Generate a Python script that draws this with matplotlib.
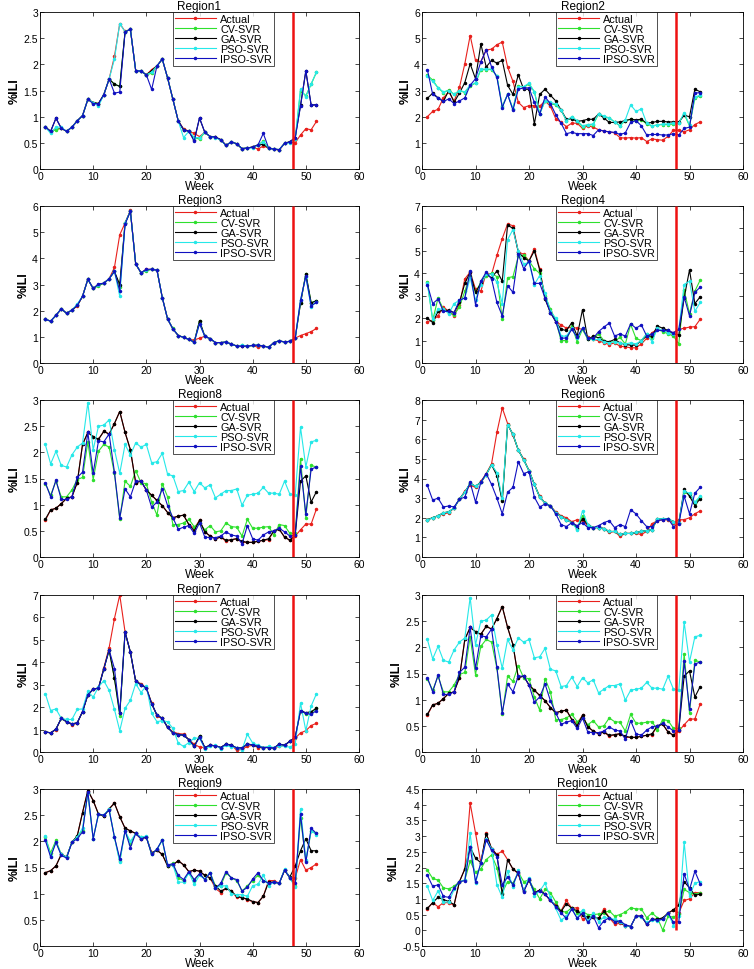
import matplotlib
matplotlib.use('Agg')
import matplotlib.pyplot as plt
from matplotlib.ticker import FormatStrFormatter, MultipleLocator

plt.rcParams['font.family'] = ['Liberation Sans', 'DejaVu Sans']

weeks = list(range(1, 53))
labels = ['Actual', 'CV-SVR', 'GA-SVR', 'PSO-SVR', 'IPSO-SVR']
colors = ['#e8201c', '#2ee02e', '#000000', '#26e8e8', '#1010c0']

# Region1
r1_actual = [0.8,0.72,0.76,0.78,0.72,0.8,0.92,1.02,1.33,1.27,1.25,1.42,1.72,2.15,2.78,2.63,2.67,1.88,1.87,1.8,1.9,1.97,2.1,1.74,1.33,0.92,0.77,0.72,0.68,0.62,0.7,0.62,0.61,0.56,0.45,0.52,0.48,0.39,0.4,0.42,0.38,0.44,0.4,0.38,0.36,0.49,0.52,0.5,0.65,0.77,0.75,0.91]
r1_cv = [0.8,0.72,0.75,0.78,0.72,0.8,0.92,1.02,1.33,1.27,1.25,1.42,1.72,1.62,1.58,2.62,2.67,1.88,1.87,1.8,1.83,1.97,2.1,1.74,1.33,0.92,0.75,0.72,0.6,0.57,0.7,0.62,0.61,0.55,0.45,0.52,0.48,0.39,0.4,0.42,0.46,0.53,0.4,0.38,0.37,0.49,0.52,0.57,1.5,1.4,1.62,1.85]
r1_ga = [0.8,0.72,0.97,0.78,0.72,0.8,0.92,1.02,1.33,1.27,1.25,1.42,1.72,1.62,1.58,2.62,2.67,1.88,1.87,1.8,1.88,1.97,2.1,1.74,1.33,0.92,0.75,0.72,0.55,0.97,0.7,0.62,0.61,0.56,0.45,0.52,0.48,0.39,0.4,0.42,0.46,0.47,0.4,0.38,0.37,0.49,0.52,0.6,1.22,1.87,1.22,1.23]
r1_pso = [0.8,0.68,0.8,0.8,0.72,0.8,0.92,1.02,1.33,1.27,1.2,1.42,1.72,2.1,2.78,2.62,2.67,1.88,1.87,1.8,1.85,1.97,2.1,1.74,1.33,0.92,0.6,0.72,0.6,0.6,0.7,0.62,0.6,0.55,0.45,0.52,0.48,0.39,0.4,0.4,0.46,0.52,0.4,0.38,0.37,0.49,0.5,0.57,1.53,1.38,1.63,1.85]
r1_ipso = [0.8,0.72,0.97,0.78,0.72,0.8,0.92,1.02,1.33,1.25,1.25,1.42,1.72,1.45,1.47,2.62,2.67,1.88,1.87,1.8,1.52,1.97,2.1,1.74,1.33,0.92,0.75,0.72,0.53,0.98,0.7,0.62,0.61,0.56,0.45,0.52,0.48,0.39,0.4,0.42,0.46,0.68,0.4,0.38,0.37,0.49,0.52,0.6,1.2,1.88,1.22,1.23]

# Region2
r2_actual = [2.0,2.2,2.28,2.72,2.95,2.6,3.12,4.02,5.1,4.15,4.1,4.55,4.58,4.75,4.85,3.9,3.35,2.55,2.35,2.42,2.42,2.4,2.6,2.4,1.92,1.78,1.62,1.75,1.75,1.55,1.65,1.6,1.5,1.45,1.42,1.38,1.2,1.18,1.2,1.18,1.2,1.05,1.15,1.12,1.1,1.25,1.48,1.48,1.42,1.5,1.7,1.8]
r2_cv = [3.58,3.4,3.1,2.92,3.02,2.85,3.0,2.92,3.18,3.28,3.8,3.8,3.8,3.55,2.4,2.85,2.3,3.18,3.12,3.25,2.95,2.12,2.6,2.5,2.45,2.25,1.85,1.98,1.82,1.62,1.68,1.7,2.1,2.0,1.95,1.8,1.65,1.85,1.9,1.85,1.88,1.72,1.65,1.68,1.7,1.7,1.72,1.75,2.1,1.65,2.7,2.8]
r2_ga = [2.7,2.9,2.72,2.58,3.0,2.55,2.9,3.3,4.02,3.45,4.78,3.9,4.15,4.05,4.15,3.2,2.85,3.6,3.05,3.05,1.72,2.85,3.05,2.82,2.6,2.25,1.9,1.92,1.82,1.85,1.9,1.9,2.1,1.95,1.78,1.78,1.8,1.85,1.9,1.88,1.9,1.75,1.78,1.82,1.82,1.8,1.8,1.8,2.05,2.0,3.05,2.95]
r2_pso = [3.55,3.35,3.1,2.95,3.0,2.85,3.0,2.95,3.2,3.3,3.82,3.82,3.82,3.55,2.38,2.85,2.3,3.15,3.15,3.28,2.95,2.1,2.6,2.55,2.48,2.25,1.85,2.0,1.85,1.65,1.7,1.72,2.12,2.02,1.95,1.8,1.65,1.88,2.45,2.2,2.3,1.75,1.65,1.68,1.72,1.72,1.75,1.75,2.15,1.68,2.75,2.82]
r2_ipso = [3.8,2.85,2.72,2.58,2.68,2.5,2.6,2.72,3.2,3.45,4.1,4.55,3.9,3.5,2.35,2.85,2.25,3.05,3.1,3.1,2.55,2.1,2.75,2.5,2.08,1.75,1.35,1.4,1.35,1.35,1.35,1.28,1.5,1.45,1.42,1.4,1.32,1.38,1.78,1.85,1.65,1.3,1.32,1.32,1.3,1.3,1.35,1.3,1.55,1.6,2.9,2.92]

# Region3
r3_actual = [1.67,1.6,1.82,2.07,1.9,2.02,2.18,2.55,3.2,2.85,3.0,3.05,3.22,3.65,4.9,5.35,5.83,3.78,3.45,3.58,3.58,3.55,2.5,1.68,1.3,1.05,0.98,0.9,0.88,0.95,1.02,0.93,0.78,0.78,0.8,0.72,0.65,0.65,0.65,0.67,0.6,0.65,0.6,0.78,0.85,0.8,0.83,0.95,1.05,1.12,1.2,1.32]
r3_cv = [1.67,1.6,1.82,2.07,1.9,2.02,2.2,2.55,3.2,2.85,2.95,3.05,3.22,3.5,2.9,5.35,5.8,3.78,3.45,3.52,3.58,3.55,2.5,1.68,1.32,1.05,0.98,0.9,0.8,1.6,1.02,0.93,0.78,0.78,0.8,0.72,0.65,0.67,0.65,0.67,0.68,0.65,0.6,0.78,0.85,0.8,0.83,0.95,2.3,3.42,2.3,2.38]
r3_ga = [1.67,1.6,1.82,2.07,1.9,2.02,2.2,2.55,3.2,2.85,2.98,3.05,3.22,3.5,3.0,5.35,5.8,3.78,3.45,3.56,3.58,3.55,2.5,1.68,1.3,1.05,0.98,0.9,0.8,1.62,1.02,0.93,0.78,0.78,0.8,0.72,0.65,0.66,0.65,0.67,0.68,0.65,0.6,0.78,0.85,0.8,0.83,0.95,2.28,3.4,2.3,2.38]
r3_pso = [1.67,1.6,1.82,2.07,1.9,2.02,2.25,2.55,3.2,2.85,3.0,3.05,3.22,3.5,2.55,5.35,5.8,3.78,3.45,3.56,3.58,3.55,2.5,1.68,1.3,1.05,0.98,0.9,0.8,1.5,1.02,0.93,0.78,0.78,0.8,0.72,0.65,0.68,0.65,0.67,0.68,0.65,0.6,0.78,0.85,0.8,0.83,0.95,2.4,3.3,2.15,2.35]
r3_ipso = [1.67,1.6,1.82,2.07,1.9,2.02,2.2,2.55,3.2,2.85,3.02,3.05,3.22,3.5,2.75,5.3,5.8,3.78,3.45,3.58,3.58,3.55,2.5,1.68,1.3,1.05,0.98,0.9,0.8,1.5,1.02,0.93,0.78,0.78,0.8,0.72,0.65,0.65,0.65,0.67,0.68,0.65,0.6,0.78,0.85,0.8,0.83,0.95,2.4,3.32,2.18,2.32]

# Region4
r4_actual = [1.85,1.9,2.1,2.5,2.3,2.1,2.6,3.75,4.05,3.3,3.2,4.0,3.95,4.8,5.55,6.2,6.12,4.95,4.85,4.55,5.1,4.2,2.9,2.3,1.85,1.7,1.55,1.6,1.55,1.5,1.15,1.05,1.0,0.9,0.82,0.9,0.75,0.72,0.68,0.68,0.85,1.1,1.35,1.5,1.45,1.4,1.35,1.5,1.55,1.6,1.62,1.95]
r4_cv = [3.6,1.9,2.9,2.4,2.25,2.15,2.5,3.2,3.9,3.15,3.6,3.9,4.0,3.85,1.95,3.8,3.85,4.75,4.8,4.55,4.2,4.0,3.0,2.4,1.9,1.0,1.0,1.65,0.95,1.5,1.05,1.05,1.3,1.0,0.92,0.95,1.15,0.85,1.72,1.1,1.0,1.3,1.1,1.5,1.4,1.3,1.2,0.85,3.25,2.2,3.2,3.7]
r4_ga = [2.0,1.8,2.3,2.35,2.35,2.25,2.7,3.55,4.05,3.15,3.55,3.95,3.8,4.1,3.65,6.15,6.0,4.95,4.7,4.55,5.0,4.15,2.85,2.25,1.85,1.5,1.45,1.8,1.2,2.38,1.05,1.2,1.12,0.98,0.95,1.05,0.9,0.82,0.8,0.8,1.0,1.2,1.2,1.65,1.55,1.45,1.3,1.25,2.9,4.15,2.65,2.95]
r4_pso = [3.55,1.95,2.4,2.4,2.2,2.65,2.8,2.9,3.8,2.8,3.5,3.95,3.95,3.6,2.65,5.5,5.95,5.0,4.4,4.5,3.5,3.9,3.1,2.3,2.0,1.2,1.2,1.55,1.1,1.55,1.1,1.05,1.05,0.95,0.9,0.95,0.9,0.85,0.9,0.85,1.0,1.3,0.95,1.55,1.45,1.35,1.3,1.5,3.5,3.65,2.3,2.7]
r4_ipso = [3.5,2.65,2.85,2.3,2.3,2.25,2.8,2.9,4.1,2.6,3.65,4.05,3.75,2.7,2.1,3.45,3.15,4.85,4.2,4.55,3.55,3.55,2.9,2.25,1.85,1.1,1.12,1.5,1.15,1.55,1.1,1.1,1.4,1.6,1.78,1.2,1.3,1.2,1.75,1.55,1.7,1.2,1.3,1.45,1.45,1.45,1.35,1.5,2.95,2.1,3.15,3.38]

# Region8
r8_actual = [0.7,0.9,0.93,1.02,1.12,1.15,1.42,2.15,2.38,2.3,2.25,2.4,2.35,2.55,2.78,2.38,2.05,1.42,1.45,1.28,1.18,1.08,0.98,0.85,0.75,0.78,0.8,0.62,0.55,0.7,0.48,0.4,0.35,0.38,0.3,0.33,0.35,0.28,0.28,0.28,0.3,0.32,0.33,0.5,0.53,0.38,0.32,0.4,0.52,0.63,0.63,0.92]
r8_cv = [1.4,1.18,1.45,1.15,1.15,1.28,1.48,1.52,2.2,1.48,2.02,2.15,2.1,1.6,0.72,1.45,1.35,1.65,1.42,1.4,1.05,0.8,1.4,1.15,0.62,0.62,0.65,0.72,0.58,0.65,0.52,0.6,0.48,0.5,0.65,0.58,0.57,0.4,0.72,0.55,0.55,0.57,0.58,0.42,0.62,0.6,0.45,0.45,1.88,0.75,1.75,1.72]
r8_ga = [0.72,0.9,0.93,1.02,1.12,1.15,1.42,2.15,2.38,2.3,2.25,2.4,2.35,2.55,2.78,2.38,2.05,1.42,1.45,1.28,1.18,1.08,0.98,0.85,0.75,0.78,0.8,0.62,0.5,0.7,0.48,0.4,0.35,0.38,0.32,0.33,0.35,0.3,0.28,0.28,0.3,0.32,0.35,0.5,0.53,0.38,0.32,0.42,1.45,1.55,1.05,1.25]
r8_pso = [2.15,1.78,2.02,1.75,1.72,1.95,2.1,2.18,2.95,2.05,2.5,2.52,2.62,2.05,1.6,2.15,1.95,2.18,2.1,2.15,1.8,1.82,1.98,1.58,1.55,1.25,1.27,1.43,1.25,1.42,1.32,1.38,1.13,1.2,1.27,1.27,1.3,0.99,1.18,1.2,1.22,1.33,1.22,1.22,1.2,1.45,1.2,1.18,2.48,1.72,2.2,2.23]
r8_ipso = [1.42,1.15,1.47,1.1,1.1,1.15,1.52,1.62,2.38,1.6,2.22,2.2,2.35,1.62,0.75,1.3,1.15,1.45,1.45,1.28,0.95,1.05,1.3,0.98,0.75,0.53,0.57,0.6,0.45,0.65,0.38,0.37,0.37,0.4,0.48,0.42,0.4,0.25,0.6,0.35,0.32,0.42,0.48,0.5,0.55,0.48,0.4,0.42,1.73,0.82,1.68,1.72]

# Region6
r6_actual = [1.9,2.0,2.1,2.2,2.25,2.5,2.95,3.35,3.65,3.55,3.85,4.25,4.75,6.35,7.6,6.8,6.2,5.45,5.0,4.4,3.7,3.1,2.75,2.6,2.3,2.1,2.0,1.8,1.9,1.85,1.6,1.5,1.5,1.45,1.25,1.3,1.05,1.2,1.2,1.2,1.15,1.3,1.7,1.85,1.9,1.9,1.75,1.9,1.9,2.0,2.2,2.35]
r6_cv = [1.9,2.0,2.1,2.25,2.3,2.5,2.95,3.3,3.75,3.6,3.8,4.2,4.7,4.25,2.9,6.75,6.25,5.45,4.95,4.4,3.7,3.05,2.75,2.6,2.25,2.05,1.9,1.75,1.45,2.1,1.65,1.5,1.5,1.45,1.3,1.3,1.15,1.2,1.2,1.25,1.3,1.35,1.4,1.95,1.95,1.95,1.8,1.75,3.3,3.2,2.75,3.05]
r6_ga = [1.9,2.0,2.1,2.25,2.3,2.5,2.95,3.3,3.75,3.6,3.8,4.2,4.7,4.15,2.85,6.75,6.25,5.45,4.95,4.4,3.7,3.05,2.75,2.6,2.25,2.05,1.9,1.75,1.5,1.95,1.65,1.5,1.5,1.45,1.3,1.3,1.15,1.2,1.2,1.25,1.3,1.35,1.4,1.95,1.95,1.95,1.8,1.75,3.45,3.1,2.62,2.98]
r6_pso = [1.88,2.0,2.1,2.25,2.3,2.5,2.95,3.3,3.75,3.6,3.8,4.2,4.7,4.3,3.0,6.75,6.25,5.45,4.95,4.4,3.7,3.05,2.75,2.6,2.25,2.05,1.9,1.75,1.4,2.35,1.65,1.5,1.5,1.45,1.3,1.3,1.15,1.2,1.2,1.25,1.3,1.35,1.4,1.95,1.95,1.95,1.8,1.75,3.35,3.25,2.8,3.1]
r6_ipso = [3.65,2.9,3.0,2.55,2.6,2.55,2.95,3.05,3.8,2.8,3.8,4.25,3.7,3.0,2.2,3.3,3.55,4.85,4.25,4.35,3.05,2.55,2.7,2.6,2.2,1.65,1.55,1.75,1.6,1.75,1.5,1.5,1.6,1.75,1.85,1.5,1.65,1.55,2.4,2.2,1.85,1.55,1.55,1.85,1.9,1.95,1.55,1.7,3.1,2.2,3.25,3.55]

# Region7
r7_actual = [0.9,0.85,1.0,1.5,1.35,1.22,1.28,1.8,2.55,2.8,2.85,3.75,4.65,5.95,7.0,5.35,4.45,3.15,3.05,2.85,2.2,1.6,1.5,1.1,0.9,0.82,0.8,0.55,0.35,0.22,0.2,0.3,0.28,0.2,0.35,0.3,0.08,0.12,0.25,0.3,0.2,0.2,0.22,0.18,0.25,0.3,0.48,0.62,0.85,0.95,1.18,1.28]
r7_cv = [0.9,0.85,1.02,1.5,1.35,1.25,1.3,1.8,2.55,2.8,2.85,3.7,4.55,3.3,1.6,5.35,4.45,3.15,3.0,2.85,2.15,1.65,1.5,1.1,0.85,0.78,0.75,0.55,0.25,0.7,0.2,0.3,0.28,0.2,0.35,0.3,0.18,0.18,0.35,0.32,0.25,0.2,0.2,0.18,0.35,0.3,0.48,0.65,1.85,1.7,1.75,1.95]
r7_ga = [0.9,0.85,1.02,1.5,1.35,1.25,1.3,1.8,2.55,2.8,2.85,3.7,4.55,3.28,1.72,5.35,4.45,3.15,3.0,2.85,2.15,1.65,1.5,1.1,0.85,0.78,0.75,0.55,0.25,0.72,0.2,0.3,0.28,0.2,0.35,0.3,0.18,0.18,0.35,0.32,0.25,0.2,0.2,0.18,0.35,0.3,0.48,0.65,1.85,1.75,1.8,1.95]
r7_pso = [2.6,1.85,1.92,1.5,1.45,1.45,1.9,1.92,2.7,2.45,2.9,3.18,2.75,1.9,0.95,1.95,2.3,3.05,2.65,2.95,1.72,1.35,1.4,1.35,1.05,0.4,0.25,0.42,0.62,0.62,0.15,0.25,0.3,0.15,0.3,0.22,0.2,0.1,0.8,0.4,0.3,0.2,0.25,0.2,0.28,0.25,0.22,0.35,2.18,0.95,2.05,2.6]
r7_ipso = [0.9,0.85,1.02,1.5,1.35,1.25,1.3,1.8,2.55,2.8,2.85,3.7,4.55,3.72,1.72,5.35,4.45,3.15,3.0,2.85,2.15,1.65,1.5,1.1,0.85,0.78,0.75,0.55,0.25,0.65,0.2,0.3,0.28,0.2,0.35,0.3,0.18,0.18,0.35,0.32,0.25,0.2,0.2,0.18,0.35,0.3,0.48,0.65,1.85,1.72,1.68,1.85]

# Region9
r9_actual = [1.4,1.44,1.53,1.75,1.7,1.98,2.1,2.55,2.97,2.78,2.52,2.48,2.62,2.73,2.47,2.25,2.2,2.15,2.05,2.08,1.78,1.83,1.75,1.53,1.55,1.63,1.55,1.42,1.45,1.43,1.35,1.3,1.1,1.02,1.1,1.05,0.93,0.93,0.88,0.85,0.83,0.95,1.25,1.25,1.2,1.45,1.3,1.3,1.65,1.45,1.5,1.57]
r9_cv = [2.08,1.78,2.02,1.75,1.7,1.98,2.1,2.2,2.93,2.05,2.52,2.5,2.6,2.08,1.62,2.2,1.95,2.15,2.08,2.08,1.75,1.85,2.02,1.53,1.58,1.3,1.25,1.4,1.25,1.38,1.28,1.4,1.15,1.15,1.4,1.3,1.25,1.05,1.15,1.25,1.35,1.25,1.2,1.22,1.2,1.45,1.3,1.15,2.45,1.62,2.2,2.15]
r9_ga = [1.4,1.44,1.53,1.75,1.7,1.98,2.1,2.55,2.97,2.78,2.52,2.48,2.62,2.73,2.47,2.25,2.2,2.15,2.05,2.08,1.78,1.83,1.75,1.53,1.55,1.63,1.55,1.42,1.45,1.43,1.35,1.3,1.15,1.05,1.1,1.05,0.95,0.92,0.9,0.85,0.83,0.95,1.22,1.22,1.2,1.45,1.32,1.53,1.82,2.05,1.82,1.82]
r9_pso = [2.1,1.72,1.98,1.75,1.7,1.98,2.08,2.25,2.92,2.05,2.52,2.5,2.62,2.08,1.6,2.2,2.0,2.15,2.08,2.1,1.75,1.85,2.02,1.55,1.55,1.22,1.22,1.4,1.18,1.35,1.28,1.4,1.1,1.15,1.15,1.0,0.98,0.98,0.95,1.15,1.18,1.35,1.15,1.22,1.2,1.47,1.3,1.12,2.62,1.65,2.2,2.13]
r9_ipso = [2.02,1.7,1.98,1.73,1.68,1.98,2.05,2.18,2.95,2.05,2.52,2.5,2.6,2.08,1.67,2.2,1.88,2.15,2.05,2.08,1.75,1.85,2.03,1.55,1.57,1.35,1.27,1.42,1.27,1.38,1.27,1.4,1.1,1.2,1.42,1.3,1.27,1.05,1.12,1.28,1.4,1.25,1.2,1.22,1.2,1.45,1.3,1.2,2.52,1.6,2.25,2.15]

# Region10
r10_actual = [0.68,0.88,0.75,0.88,0.88,0.8,1.55,1.95,4.05,3.1,2.15,3.1,2.6,2.42,2.52,2.25,1.95,1.8,1.25,1.6,1.2,1.28,1.15,0.95,0.8,0.62,0.95,0.7,0.72,0.35,0.42,0.42,0.38,0.68,0.4,0.2,0.22,0.15,0.12,0.45,0.45,0.2,0.35,0.35,0.38,0.55,0.65,0.55,0.95,1.0,1.2,1.2]
r10_cv = [1.92,1.65,1.6,1.35,1.32,1.4,1.55,1.6,2.2,1.85,1.95,2.25,2.4,2.0,1.2,1.55,1.5,1.85,1.55,1.6,1.3,1.0,1.3,1.2,0.9,0.6,0.58,0.72,0.55,0.6,0.5,0.5,0.52,0.55,0.62,0.45,0.5,0.58,0.72,0.68,0.68,0.4,0.55,0.4,0.0,0.45,0.42,0.52,1.3,1.2,1.15,1.2]
r10_ga = [0.7,0.88,1.05,0.98,0.92,0.82,1.55,1.95,2.65,2.3,2.15,3.08,2.6,2.4,1.15,2.25,1.95,1.82,1.25,1.6,1.2,1.28,1.15,0.95,0.78,0.6,0.85,0.7,0.62,0.48,0.42,0.42,0.38,0.6,0.4,0.3,0.25,0.15,0.12,0.45,0.45,0.2,0.35,0.35,0.4,0.55,0.65,0.82,1.55,1.35,1.12,1.15]
r10_pso = [1.4,0.95,1.25,0.9,0.9,1.3,1.55,1.6,3.1,1.5,2.15,2.9,2.6,1.45,1.05,1.9,1.38,1.92,1.25,1.68,1.1,1.25,1.5,1.05,0.7,0.32,0.45,0.68,0.4,0.65,0.3,0.55,0.28,0.42,0.38,0.35,0.28,0.15,0.12,0.45,0.42,0.25,0.32,0.3,0.35,0.55,0.15,0.45,2.8,1.1,1.5,1.55]
r10_ipso = [1.75,1.4,1.45,1.08,1.05,1.35,1.55,1.58,2.65,1.55,2.15,2.88,2.55,2.35,1.45,1.7,1.45,1.85,1.22,1.62,1.2,1.25,1.15,0.95,0.75,0.55,0.38,0.68,0.38,0.55,0.25,0.45,0.08,0.3,0.4,0.28,0.3,0.18,0.12,0.45,0.45,0.2,0.35,0.32,0.35,0.55,0.25,0.28,1.8,1.3,1.88,1.48]

titles = ['Region1', 'Region2', 'Region3', 'Region4', 'Region8',
          'Region6', 'Region7', 'Region8', 'Region9', 'Region10']
ylims = [(0, 3), (0, 6), (0, 6), (0, 7), (0, 3), (0, 8), (0, 7), (0, 3), (0, 3), (-0.5, 4.5)]
ysteps = [0.5, 1, 1, 1, 0.5, 1, 1, 0.5, 0.5, 0.5]
series = [
    [r1_actual, r1_cv, r1_ga, r1_pso, r1_ipso],
    [r2_actual, r2_cv, r2_ga, r2_pso, r2_ipso],
    [r3_actual, r3_cv, r3_ga, r3_pso, r3_ipso],
    [r4_actual, r4_cv, r4_ga, r4_pso, r4_ipso],
    [r8_actual, r8_cv, r8_ga, r8_pso, r8_ipso],
    [r6_actual, r6_cv, r6_ga, r6_pso, r6_ipso],
    [r7_actual, r7_cv, r7_ga, r7_pso, r7_ipso],
    [r8_actual, r8_cv, r8_ga, r8_pso, r8_ipso],
    [r9_actual, r9_cv, r9_ga, r9_pso, r9_ipso],
    [r10_actual, r10_cv, r10_ga, r10_pso, r10_ipso],
]
split_week = 47.5

fig = plt.figure(figsize=(7.54, 9.70), dpi=100)
W, H = 754.0, 970.0
col_left = [40, 422]
col_width = [319, 321]
row_top = [13, 207, 401, 596, 790]
ax_h = 157

for i in range(10):
    r, c = divmod(i, 2)
    ax = fig.add_axes([col_left[c] / W, 1 - (row_top[r] + ax_h) / H,
                       col_width[c] / W, ax_h / H])
    for vals, lab, col in zip(series[i], labels, colors):
        ax.plot(weeks, vals, '-', marker='.', color=col, lw=0.8, ms=3, label=lab)
    lo, hi = ylims[i]
    ax.vlines(split_week, 0, hi, colors='#ee1111', lw=1.8, zorder=5)
    ax.set_xlim(0, 60)
    ax.set_ylim(lo, hi)
    ax.xaxis.set_major_locator(MultipleLocator(10))
    ax.yaxis.set_major_locator(MultipleLocator(ysteps[i]))
    ax.yaxis.set_major_formatter(FormatStrFormatter('%g'))
    ax.tick_params(direction='in', top=True, right=True, labelsize=7.5, length=3,
                   width=0.5, pad=1.5)
    for sp in ax.spines.values():
        sp.set_linewidth(0.6)
    ax.set_title(titles[i], fontsize=8.5, pad=2)
    ax.set_xlabel('Week', fontsize=8.5, labelpad=-1)
    ax.set_ylabel('%ILI', fontsize=9, fontweight='bold', labelpad=2)
    leg = ax.legend(loc='upper center', bbox_to_anchor=(0.575, 1.0), fontsize=7.8,
                    frameon=True, fancybox=False, edgecolor='black',
                    borderaxespad=0, handlelength=3.8, labelspacing=0.0,
                    borderpad=0.2, handletextpad=0.4)
    leg.get_frame().set_linewidth(0.6)

fig.savefig('out.png', dpi=100)
